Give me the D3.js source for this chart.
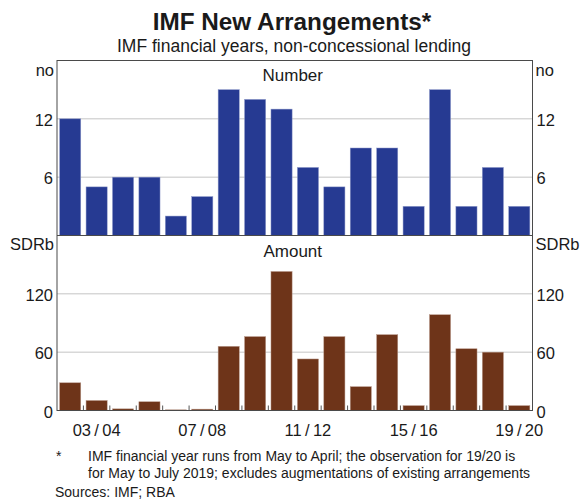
<!DOCTYPE html>
<html>
<head>
<meta charset="utf-8">
<script src="https://d3js.org/d3.v7.min.js"></script>
<style>
  body { margin: 0; background: #fff; }
  text { font-family: "Liberation Sans", Arial, sans-serif; fill: #1a1a1a; }
</style>
</head>
<body>
<div id="chart"></div>
<script>
// IMF financial years, 02/03 to 19/20
var years = ["02/03","03/04","04/05","05/06","06/07","07/08","08/09","09/10","10/11",
             "11/12","12/13","13/14","14/15","15/16","16/17","17/18","18/19","19/20"];
var numberValues = [12, 5, 6, 6, 2, 4, 15, 14, 13, 7, 5, 9, 9, 3, 15, 3, 7, 3];
var amountValues = [28.5, 10.3, 1.7, 9, 0.7, 1.4, 66, 76, 143, 53, 76, 24.5, 78, 5, 98.5, 63.5, 60, 5];
var numberTicks = [6, 12];
var amountTicks = [0, 60, 120];
var xLabels = ["03/04", "07/08", "11/12", "15/16", "19/20"];

var W = 582, H = 500;
var left = 57, right = 532.5;
var top1 = 60.5, bot1 = 235.5, bot2 = 410.5;

var svg = d3.select("#chart").append("svg").attr("width", W).attr("height", H);

var x = d3.scaleBand().domain(years).range([left, right]).paddingInner(0.2).paddingOuter(0.1);
var yNum = d3.scaleLinear().domain([0, 18]).range([bot1, top1]);
var yAmt = d3.scaleLinear().domain([0, 180]).range([bot2, bot1]);

// gridlines
function grid(scale, ticks) {
    svg.append("g").selectAll("line").data(ticks.filter(function(d) { return d > 0; }))
        .enter().append("line")
        .attr("x1", left).attr("x2", right)
        .attr("y1", function(d) { return scale(d); })
        .attr("y2", function(d) { return scale(d); })
        .attr("stroke", "#c4c4c4").attr("stroke-width", 1);
}
grid(yNum, numberTicks);
grid(yAmt, amountTicks);

// bars
svg.append("g").selectAll("rect").data(numberValues).enter().append("rect")
    .attr("x", function(d, i) { return x(years[i]); })
    .attr("width", x.bandwidth())
    .attr("y", function(d) { return yNum(d); })
    .attr("height", function(d) { return bot1 - yNum(d); })
    .attr("fill", "#263a92")
    .attr("stroke", "#8e99c9").attr("stroke-width", 0.5);

svg.append("g").selectAll("rect").data(amountValues).enter().append("rect")
    .attr("x", function(d, i) { return x(years[i]); })
    .attr("width", x.bandwidth())
    .attr("y", function(d) { return yAmt(d); })
    .attr("height", function(d) { return bot2 - yAmt(d); })
    .attr("fill", "#6e3419")
    .attr("stroke", "#b99a8c").attr("stroke-width", 0.5);

// x ticks at category boundaries
var step = x.step();
var bounds = d3.range(1, years.length).map(function(i) { return left + i * step; });
svg.append("g").selectAll("line").data(bounds).enter().append("line")
    .attr("x1", function(d) { return d; }).attr("x2", function(d) { return d; })
    .attr("y1", bot2).attr("y2", bot2 - 5)
    .attr("stroke", "#555").attr("stroke-width", 1);

// frame
svg.append("rect").attr("x", left).attr("y", top1)
    .attr("width", right - left).attr("height", bot2 - top1)
    .attr("fill", "none").attr("stroke", "#4a4a4a").attr("stroke-width", 1);
svg.append("line").attr("x1", left).attr("x2", right).attr("y1", bot1).attr("y2", bot1)
    .attr("stroke", "#4a4a4a").attr("stroke-width", 1.2);
svg.append("line").attr("x1", left).attr("x2", right).attr("y1", bot2).attr("y2", bot2)
    .attr("stroke", "#4a4a4a").attr("stroke-width", 1.2);

// y tick labels both sides
function yLabels(scale, ticks, unit, unitY) {
    ticks.forEach(function(t) {
        svg.append("text").attr("x", left - 4).attr("y", scale(t) + 7)
            .attr("text-anchor", "end").style("font-size", "16.5px").text(t);
        svg.append("text").attr("x", right + 4).attr("y", scale(t) + 7)
            .attr("text-anchor", "start").style("font-size", "16.5px").text(t);
    });
    svg.append("text").attr("x", left - 3).attr("y", unitY)
        .attr("text-anchor", "end").style("font-size", "16.5px").text(unit);
    svg.append("text").attr("x", right + 3).attr("y", unitY)
        .attr("text-anchor", "start").style("font-size", "16.5px").text(unit);
}
yLabels(yNum, numberTicks, "no", top1 + 15);
yLabels(yAmt, amountTicks, "SDRb", bot1 + 14);

// x labels
svg.append("g").selectAll("text").data(xLabels).enter().append("text")
    .attr("x", function(d) { return x(d) + x.bandwidth() / 2; })
    .attr("y", bot2 + 25)
    .attr("text-anchor", "middle").style("font-size", "16.5px")
    .text(function(d) { return d.replace("/", "\u2009/\u2009"); });

// panel titles
var mid = (left + right) / 2;
svg.append("text").attr("x", mid - 2).attr("y", top1 + 20).attr("text-anchor", "middle")
    .style("font-size", "17px").text("Number");
svg.append("text").attr("x", mid - 2).attr("y", bot1 + 21).attr("text-anchor", "middle")
    .style("font-size", "17px").text("Amount");

// titles
svg.append("text").attr("x", 292).attr("y", 30).attr("text-anchor", "middle")
    .style("font-size", "24.3px").style("font-weight", "bold").text("IMF New Arrangements*");
svg.append("text").attr("x", 294).attr("y", 52).attr("text-anchor", "middle")
    .style("font-size", "17.5px").text("IMF financial years, non-concessional lending");

// footnotes
svg.append("text").attr("x", 56).attr("y", 461).style("font-size", "14px").text("*");
svg.append("text").attr("x", 88).attr("y", 461).style("font-size", "14px")
    .text("IMF financial year runs from May to April; the observation for 19/20 is");
svg.append("text").attr("x", 88).attr("y", 478).style("font-size", "14px")
    .text("for May to July 2019; excludes augmentations of existing arrangements");
svg.append("text").attr("x", 55).attr("y", 497).style("font-size", "14px")
    .text("Sources: IMF; RBA");
</script>
</body>
</html>
